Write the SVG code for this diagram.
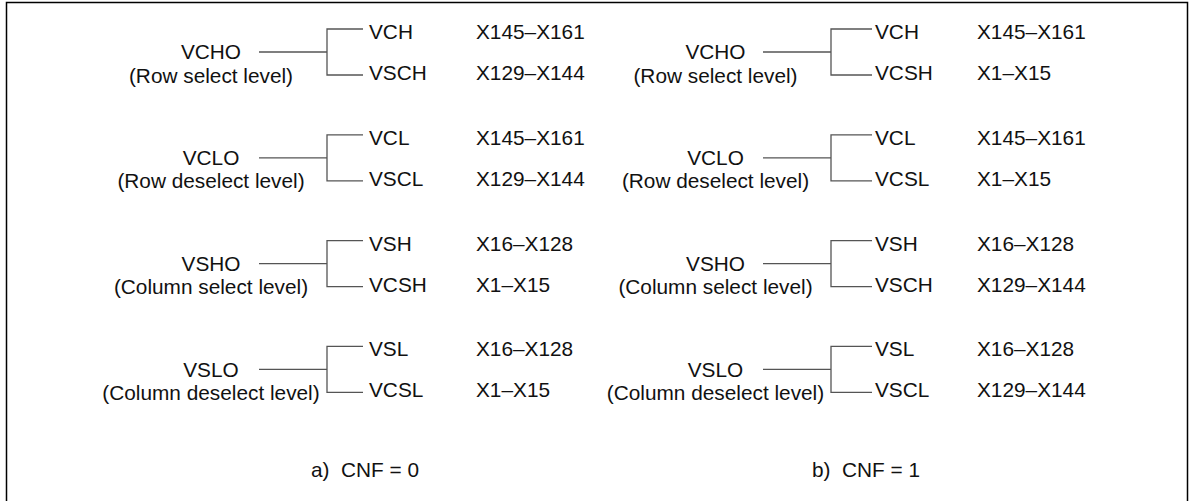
<svg xmlns="http://www.w3.org/2000/svg" width="1195" height="501" viewBox="0 0 1195 501">
<style>
text{font-family:"Liberation Sans",Arial,sans-serif;font-size:20.8px;fill:#111;white-space:pre}
.c{text-anchor:middle}
.w{fill:none;stroke:#555;stroke-width:1.3}
</style>
<rect x="0" y="0" width="1195" height="501" fill="#fff"/>
<rect x="6.5" y="2.5" width="1181" height="520" fill="none" stroke="#000" stroke-width="1.5"/>
<g id="connectors">
<path class="w" d="M259 52H327M363 29H327V75H363"/>
<path class="w" d="M259 157.8H327M363 134.8H327V180.8H363"/>
<path class="w" d="M259 263.6H327M363 240.6H327V286.6H363"/>
<path class="w" d="M259 369.4H327M363 346.4H327V392.4H363"/>
<path class="w" d="M763 52H831M872 29H831V75H872"/>
<path class="w" d="M763 157.8H831M872 134.8H831V180.8H872"/>
<path class="w" d="M763 263.6H831M872 240.6H831V286.6H872"/>
<path class="w" d="M763 369.4H831M872 346.4H831V392.4H872"/>
</g>
<g id="a-vcho"><text class="c" x="211" y="59.3">VCHO</text><text class="c" x="211" y="82.5">(Row select level)</text></g>
<g id="a-vch"><text x="369" y="39">VCH</text><text x="476" y="39">X145–X161</text></g>
<g id="a-vsch"><text x="369" y="80">VSCH</text><text x="476" y="80">X129–X144</text></g>
<g id="a-vclo"><text class="c" x="211" y="165.1">VCLO</text><text class="c" x="211" y="188.3">(Row deselect level)</text></g>
<g id="a-vcl"><text x="369" y="144.8">VCL</text><text x="476" y="144.8">X145–X161</text></g>
<g id="a-vscl"><text x="369" y="185.8">VSCL</text><text x="476" y="185.8">X129–X144</text></g>
<g id="a-vsho"><text class="c" x="211" y="270.9">VSHO</text><text class="c" x="211" y="294.1">(Column select level)</text></g>
<g id="a-vsh"><text x="369" y="250.6">VSH</text><text x="476" y="250.6">X16–X128</text></g>
<g id="a-vcsh"><text x="369" y="291.6">VCSH</text><text x="476" y="291.6">X1–X15</text></g>
<g id="a-vslo"><text class="c" x="211" y="376.7">VSLO</text><text class="c" x="211" y="399.9">(Column deselect level)</text></g>
<g id="a-vsl"><text x="369" y="356.4">VSL</text><text x="476" y="356.4">X16–X128</text></g>
<g id="a-vcsl"><text x="369" y="397.4">VCSL</text><text x="476" y="397.4">X1–X15</text></g>
<g id="b-vcho"><text class="c" x="715.5" y="59.3">VCHO</text><text class="c" x="715.5" y="82.5">(Row select level)</text></g>
<g id="b-vch"><text x="875" y="39">VCH</text><text x="977" y="39">X145–X161</text></g>
<g id="b-vcsh"><text x="875" y="80">VCSH</text><text x="977" y="80">X1–X15</text></g>
<g id="b-vclo"><text class="c" x="715.5" y="165.1">VCLO</text><text class="c" x="715.5" y="188.3">(Row deselect level)</text></g>
<g id="b-vcl"><text x="875" y="144.8">VCL</text><text x="977" y="144.8">X145–X161</text></g>
<g id="b-vcsl"><text x="875" y="185.8">VCSL</text><text x="977" y="185.8">X1–X15</text></g>
<g id="b-vsho"><text class="c" x="715.5" y="270.9">VSHO</text><text class="c" x="715.5" y="294.1">(Column select level)</text></g>
<g id="b-vsh"><text x="875" y="250.6">VSH</text><text x="977" y="250.6">X16–X128</text></g>
<g id="b-vsch"><text x="875" y="291.6">VSCH</text><text x="977" y="291.6">X129–X144</text></g>
<g id="b-vslo"><text class="c" x="715.5" y="376.7">VSLO</text><text class="c" x="715.5" y="399.9">(Column deselect level)</text></g>
<g id="b-vsl"><text x="875" y="356.4">VSL</text><text x="977" y="356.4">X16–X128</text></g>
<g id="b-vscl"><text x="875" y="397.4">VSCL</text><text x="977" y="397.4">X129–X144</text></g>
<g id="caption-a"><text x="311" y="477">a)  CNF = 0</text></g>
<g id="caption-b"><text x="812" y="477">b)  CNF = 1</text></g>
</svg>
